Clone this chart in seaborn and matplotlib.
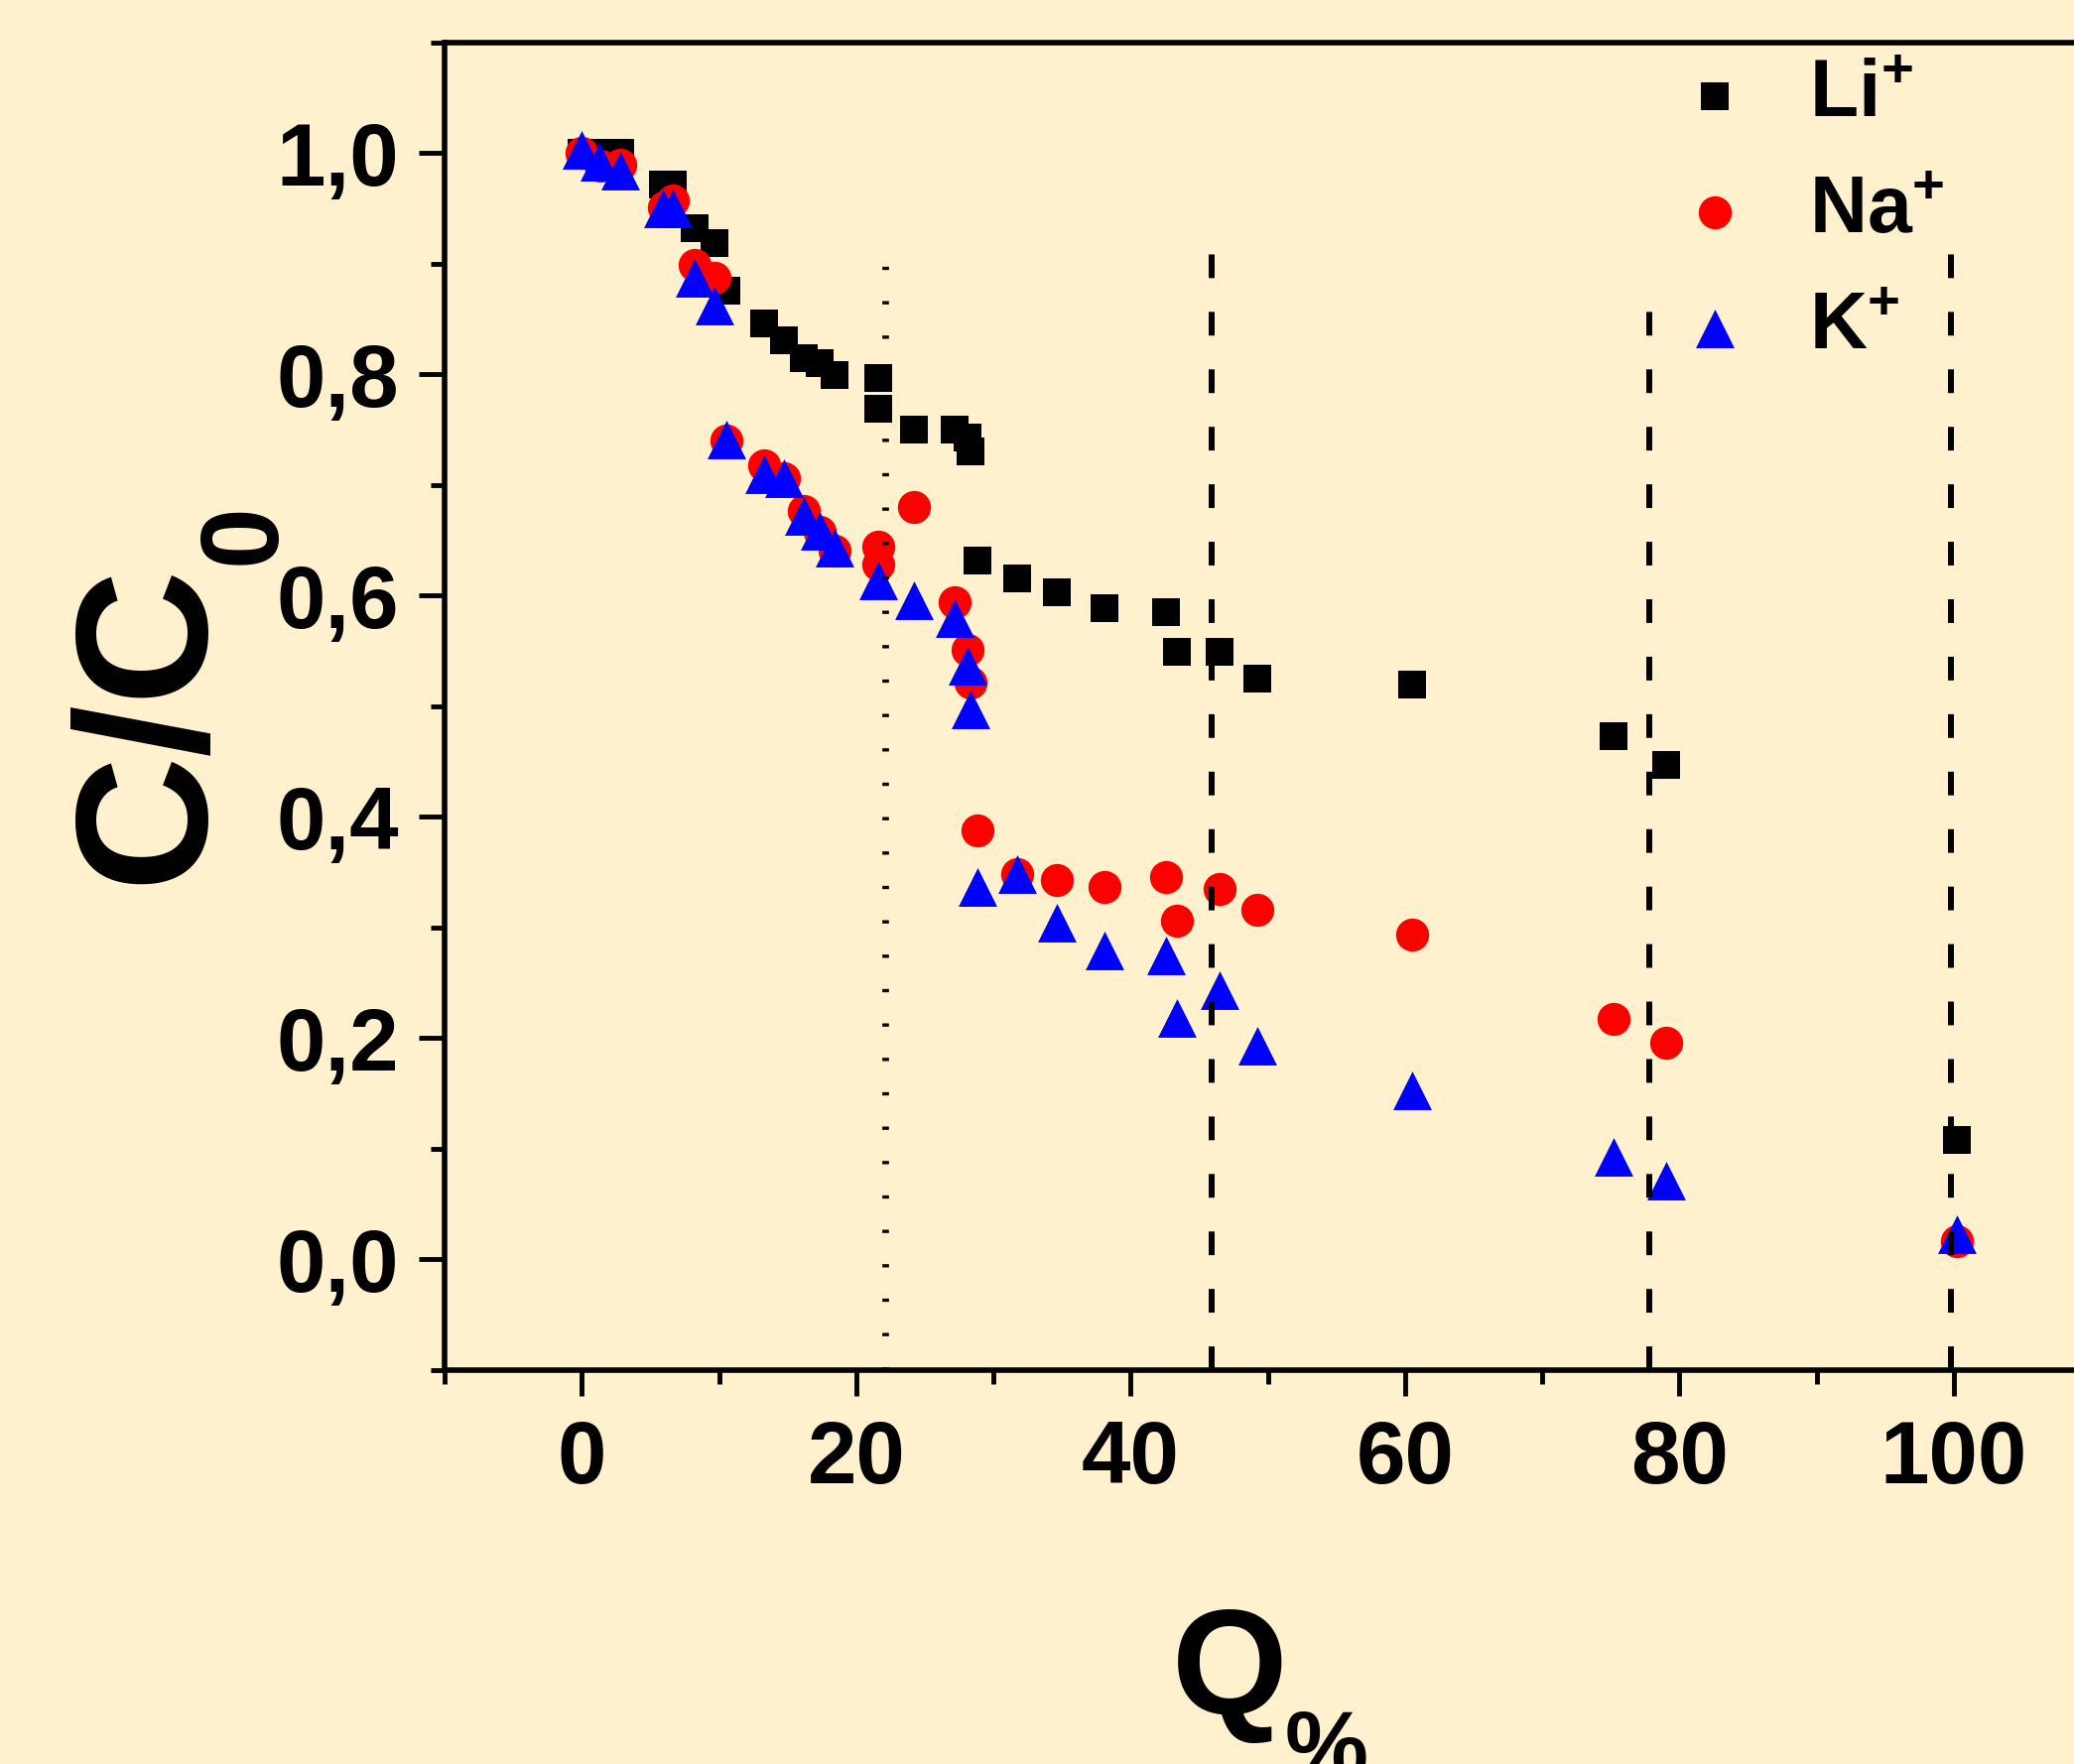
import numpy as np
import pandas as pd
import seaborn as sns
import matplotlib.pyplot as plt
from matplotlib.ticker import MultipleLocator

# values
q_li = [0, 1.5, 2.8, 5.9, 6.6, 8.2, 9.7, 10.5, 13.3, 14.7, 16.2, 17.3, 18.4, 21.6, 21.6,
        24.2, 27.2, 28.1, 28.3, 28.8, 31.7, 34.6, 38.1, 42.6, 43.4, 46.5, 49.2, 60.5,
        75.2, 79.0, 100.2]
c_li = [1.0, 1.0, 1.0, 0.972, 0.972, 0.932, 0.919, 0.876, 0.846, 0.831, 0.815, 0.81, 0.799,
        0.797, 0.769, 0.75, 0.75, 0.743, 0.73, 0.632, 0.616, 0.603, 0.589, 0.585, 0.549,
        0.549, 0.525, 0.52, 0.473, 0.447, 0.108]

q_na = [0, 1.35, 2.8, 6.0, 6.6, 8.2, 9.7, 10.5, 13.3, 14.7, 16.2, 17.3, 18.4, 21.6, 21.6,
        24.2, 27.2, 28.1, 28.3, 28.8, 31.7, 34.6, 38.1, 42.6, 43.4, 46.5, 49.2, 60.5,
        75.2, 79.0, 100.2]
c_na = [1.0, 0.989, 0.99, 0.951, 0.957, 0.899, 0.887, 0.740, 0.718, 0.706, 0.677, 0.658,
        0.641, 0.644, 0.628, 0.68, 0.594, 0.551, 0.521, 0.388, 0.348, 0.343, 0.337, 0.346,
        0.306, 0.335, 0.316, 0.294, 0.217, 0.196, 0.017]

q_k = [0, 1.25, 2.8, 5.9, 6.6, 8.2, 9.7, 10.5, 13.3, 14.7, 16.2, 17.3, 18.4, 21.6, 24.2,
       27.2, 28.1, 28.3, 28.8, 31.7, 34.6, 38.1, 42.6, 43.4, 46.5, 49.2, 60.5, 75.2, 79.0,
       100.2]
c_k = [1.003, 0.992, 0.984, 0.95, 0.95, 0.887, 0.862, 0.741, 0.71, 0.706, 0.672, 0.659,
       0.643, 0.614, 0.596, 0.58, 0.537, 0.497, 0.337, 0.348, 0.304, 0.279, 0.275, 0.218,
       0.243, 0.193, 0.153, 0.0925, 0.071, 0.023]

# vertical marker lines (first one dotted, the rest dashed)
vline_q = [22.1, 45.9, 77.8, 99.8]
vline_top = [0.905, 0.914, 0.861, 0.911]

x_ticks = [0, 20, 40, 60, 80, 100]
x_ticklabels = ["0", "20", "40", "60", "80", "100"]
y_ticks = [0.0, 0.2, 0.4, 0.6, 0.8, 1.0]
y_ticklabels = ["0,0", "0,2", "0,4", "0,6", "0,8", "1,0"]

bg = "#FFF1CE"

sns.set_theme(style="ticks")
plt.rcParams["font.family"] = ["Liberation Sans", "DejaVu Sans"]
plt.rcParams["font.weight"] = "bold"
plt.rcParams["text.color"] = "black"
plt.rcParams["axes.labelcolor"] = "black"
plt.rcParams["mathtext.fontset"] = "custom"
plt.rcParams["mathtext.rm"] = "Liberation Sans:bold"
plt.rcParams["mathtext.it"] = "Liberation Sans:bold"
plt.rcParams["mathtext.bf"] = "Liberation Sans:bold"
plt.rcParams["mathtext.default"] = "rm"

fig = plt.figure(figsize=(20.9, 17.78), dpi=100, facecolor=bg)
ax = fig.add_axes([0.2144, 0.2233, 0.7938, 0.7526])
ax.set_facecolor(bg)

sns.scatterplot(x=q_li, y=c_li, marker="s", color="black", s=20 ** 2, linewidth=0,
                label="Li$^{+}$", ax=ax, zorder=3)
sns.scatterplot(x=q_na, y=c_na, marker="o", color="#FF0000", s=24 ** 2, linewidth=0,
                label="Na$^{+}$", ax=ax, zorder=4)
sns.scatterplot(x=q_k, y=c_k, marker="^", color="#0000FF", s=28 ** 2, linewidth=0,
                label="K$^{+}$", ax=ax, zorder=5)

ax.vlines(vline_q[:1], -0.1, vline_top[:1], colors="black", linewidth=4.8,
          linestyles=[(0, (0.5, 4.7))], zorder=6)
ax.vlines(vline_q[1:], -0.1, vline_top[1:], colors="black", linewidth=4.3,
          linestyles=[(0, (4, 5.7))], zorder=6)

ax.set_xlim(-10, 110)
ax.set_ylim(-0.1, 1.1)
ax.set_xticks(x_ticks)
ax.set_xticklabels(x_ticklabels)
ax.set_yticks(y_ticks)
ax.set_yticklabels(y_ticklabels)
ax.xaxis.set_minor_locator(MultipleLocator(10))
ax.yaxis.set_minor_locator(MultipleLocator(0.1))
ax.tick_params(which="major", direction="out", length=19, width=3.5, color="black",
               labelsize=64, labelcolor="black")
ax.tick_params(axis="x", which="major", pad=16)
ax.tick_params(axis="y", which="major", pad=14)
ax.tick_params(which="minor", direction="out", length=10, width=3.5, color="black")
for sp in ax.spines.values():
    sp.set_linewidth(4)
    sp.set_color("black")

# axis titles with hand-placed, deep subscripts like the original
ax.set_ylabel("C/C", fontsize=136, fontweight="bold", color="black")
ax.yaxis.set_label_coords(-0.125, 0.488)
ax.text(-0.121, 0.63, "0", transform=ax.transAxes, rotation=90, fontsize=80,
        fontweight="bold", ha="center", va="center", color="black")
ax.set_xlabel("Q", fontsize=108, fontweight="bold", color="black")
ax.xaxis.set_label_coords(0.477, -0.177)
ax.text(0.51, -0.255, "%", transform=ax.transAxes, fontsize=68,
        fontweight="bold", ha="left", va="top", color="black", clip_on=False)

leg = ax.legend(loc="upper left", bbox_to_anchor=(0.8077, 0.967), bbox_transform=fig.transFigure,
                frameon=False, fontsize=58, handlelength=1.0, handletextpad=0.68,
                labelspacing=0.51, borderpad=0, borderaxespad=0)
for t in leg.get_texts():
    t.set_color("black")

fig.savefig("out.png", dpi=100, facecolor=bg)
